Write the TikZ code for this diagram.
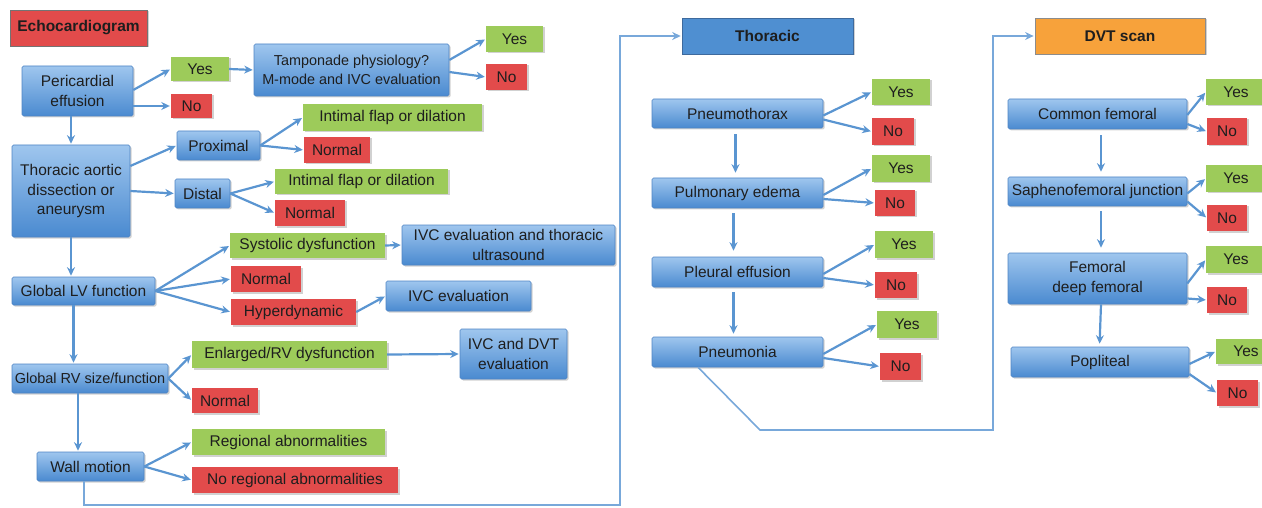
\documentclass[tikz,border=0pt]{standalone}
\usepackage{fontspec}
\setmainfont{Liberation Sans}
\usetikzlibrary{arrows.meta,shadows,calc}
\definecolor{bluetop}{HTML}{9FC6EE}
\definecolor{bluebot}{HTML}{4A8AD0}
\definecolor{blueedge}{HTML}{4E84C4}
\definecolor{grn}{HTML}{9DCB5A}
\definecolor{rd}{HTML}{E24B4B}
\definecolor{org}{HTML}{F7A23B}
\definecolor{hdr}{HTML}{4F8FD1}
\definecolor{arr}{HTML}{5A95D1}
\definecolor{frm}{HTML}{78A8DA}
\definecolor{txt}{HTML}{1E1E1E}
\newcommand{\bx}[7]{\node[#2, minimum width={(#5-#3)*1pt}, minimum height={(#6-#4)*1pt}] (#1) at ({(#3+#5)/2},{(#4+#6)/2}) {#7};}
\tikzset{
  shad/.style={drop shadow={shadow xshift=1.5pt,shadow yshift=-1.5pt,fill=black,opacity=0.18}},
  basebox/.style={align=center, inner sep=1pt, text=txt, shad},
  blue/.style={basebox, draw=blueedge, line width=0.6pt, top color=bluetop, bottom color=bluebot, rounded corners=1.5pt},
  gbox/.style={basebox, fill=grn},
  rbox/.style={basebox, fill=rd},
  hdrred/.style={basebox, fill=rd, draw=black!55, line width=0.8pt},
  hdrblue/.style={basebox, fill=hdr, draw=blueedge!80!black, line width=0.6pt},
  hdrorg/.style={basebox, fill=org, draw=black!45, line width=0.8pt},
  ar/.style={draw=arr, line width=2.2pt, -{Stealth[length=8.5pt,width=8pt]}, shorten >=1pt},
  frame/.style={draw=frm, line width=1.6pt},
  framear/.style={frame, -{Stealth[length=8.5pt,width=8pt]}, shorten >=1pt}
}
\begin{document}
\begin{tikzpicture}[x=1pt,y=-1pt, font=\fontsize{15.5}{19.5}\selectfont]
\useasboundingbox (0,0) rectangle (1262,508);
\clip (0,0) rectangle (1262,508);
% ---------- Echocardiogram column ----------
\bx{echo}{hdrred}{10}{10}{147}{46}{\textbf{Echocardiogram}}
\bx{peri}{blue}{22}{66}{133}{116}{Pericardial\\effusion}
\bx{yes1}{gbox}{171}{57}{229}{81}{Yes}
\bx{no1}{rbox}{171}{94}{212}{118}{No}
\bx{tamp}{blue, font=\fontsize{14.4}{19}\selectfont}{254}{44}{449}{96}{Tamponade physiology?\\M-mode and IVC evaluation}
\bx{yes2}{gbox}{486}{26}{543}{52}{Yes}
\bx{no2}{rbox}{486}{64}{527}{90}{No}
\bx{tad}{blue}{12}{145}{130}{237}{Thoracic aortic\\dissection or\\aneurysm}
\bx{prox}{blue}{177}{131}{260}{160}{Proximal}
\bx{int1}{gbox}{303}{104}{482}{131}{Intimal flap or dilation}
\bx{nor1}{rbox}{304}{137}{370}{163}{Normal}
\bx{dist}{blue}{175}{179}{230}{208}{Distal}
\bx{int2}{gbox}{275}{169}{448}{194}{Intimal flap or dilation}
\bx{nor2}{rbox}{275}{200}{345}{226}{Normal}
\bx{lv}{blue}{12}{277}{155}{305}{Global LV function}
\bx{sys}{gbox}{230}{233}{385}{258}{Systolic dysfunction}
\bx{ivct}{blue}{402}{225}{615}{265}{IVC evaluation and thoracic\\ultrasound}
\bx{nor3}{rbox}{231}{266}{301}{292}{Normal}
\bx{hyp}{rbox}{231}{299}{356}{325}{Hyperdynamic}
\bx{ivc}{blue}{386}{281}{531}{311}{IVC evaluation}
\bx{rv}{blue, font=\fontsize{14.5}{17}\selectfont}{12}{364}{168}{393}{Global RV size/function}
\bx{enl}{gbox}{192}{341}{387}{368}{Enlarged/RV dysfunction}
\bx{ivcdvt}{blue}{460}{329}{567}{379}{IVC and DVT\\evaluation}
\bx{nor4}{rbox}{192}{388}{258}{413}{Normal}
\bx{wall}{blue}{37}{452}{144}{481}{Wall motion}
\bx{reg}{gbox}{192}{429}{385}{455}{Regional abnormalities}
\bx{noreg}{rbox}{192}{467}{398}{493}{No regional abnormalities}
% ---------- Thoracic column ----------
\bx{thor}{hdrblue}{682}{18}{853}{54}{\textbf{Thoracic}}
\bx{pnx}{blue}{652}{99}{823}{128}{Pneumothorax}
\bx{ty1}{gbox}{872}{79}{930}{105}{Yes}
\bx{tn1}{rbox}{872}{118}{914}{145}{No}
\bx{pe}{blue}{652}{178}{823}{208}{Pulmonary edema}
\bx{ty2}{gbox}{872}{155}{930}{182}{Yes}
\bx{tn2}{rbox}{875}{190}{915}{216}{No}
\bx{pleu}{blue}{652}{257}{823}{287}{Pleural effusion}
\bx{ty3}{gbox}{875}{231}{933}{258}{Yes}
\bx{tn3}{rbox}{875}{272}{917}{298}{No}
\bx{pna}{blue}{652}{337}{823}{367}{Pneumonia}
\bx{ty4}{gbox}{877}{311}{937}{338}{Yes}
\bx{tn4}{rbox}{880}{353}{921}{380}{No}
% ---------- DVT column ----------
\bx{dvt}{hdrorg}{1035}{18}{1205}{54}{\textbf{DVT scan}}
\bx{cf}{blue}{1008}{99}{1187}{129}{Common femoral}
\bx{dy1}{gbox}{1206}{79}{1266}{105}{Yes}
\bx{dn1}{rbox}{1207}{118}{1247}{145}{No}
\bx{sfj}{blue}{1008}{177}{1187}{206}{Saphenofemoral junction}
\bx{dy2}{gbox}{1206}{165}{1266}{192}{Yes}
\bx{dn2}{rbox}{1207}{205}{1247}{231}{No}
\bx{fdf}{blue}{1008}{253}{1187}{304}{Femoral\\deep femoral}
\bx{dy3}{gbox}{1206}{246}{1266}{273}{Yes}
\bx{dn3}{rbox}{1207}{287}{1247}{313}{No}
\bx{pop}{blue}{1011}{347}{1189}{377}{Popliteal}
\bx{dy4}{gbox}{1216}{339}{1276}{364}{Yes}
\bx{dn4}{rbox}{1217}{380}{1258}{406}{No}
% ---------- connectors: echocardiogram ----------
\draw[ar] ([yshift=1pt]peri.east) -- (yes1.west);
\draw[ar] ([yshift=-15pt]peri.east) -- (no1.west);
\draw[ar] (yes1.east) -- (tamp.west);
\draw[ar] ([yshift=10pt]tamp.east) -- (yes2.west);
\draw[ar] ([yshift=-2pt]tamp.east) -- (no2.west);
\draw[ar] (tad.north |- peri.south) -- (tad.north);
\draw[ar] ([yshift=25pt]tad.east) -- (prox.west);
\draw[ar] (tad.east) -- (dist.west);
\draw[ar] (prox.east) -- (int1.west);
\draw[ar] (prox.east) -- (nor1.west);
\draw[ar] (dist.east) -- (int2.west);
\draw[ar] (dist.east) -- (nor2.west);
\draw[ar] (tad.south) -- (tad.south |- lv.north);
\draw[ar] (lv.east) -- (sys.west);
\draw[ar] (lv.east) -- (nor3.west);
\draw[ar] (lv.east) -- (hyp.west);
\draw[ar] (sys.east) -- (ivct.west);
\draw[ar] (hyp.east) -- (ivc.west);
\coordinate (lvs) at ([xshift=-10pt]lv.south);
\draw[ar] (lvs) -- (lvs |- rv.north);
\draw[ar] (rv.east) -- (enl.west);
\draw[ar] (rv.east) -- (nor4.west);
\draw[ar] (enl.east) -- (ivcdvt.west);
\coordinate (rvs) at ([xshift=-12pt]rv.south);
\draw[ar] (rvs) -- (rvs |- wall.north);
\draw[ar] (wall.east) -- (reg.west);
\draw[ar] (wall.east) -- (noreg.west);
\coordinate (ws) at ([xshift=-6.5pt]wall.south);
\coordinate (b1) at (620,505);
\draw[framear] (ws) |- (b1) |- (thor.west);
% ---------- connectors: thoracic ----------
\draw[ar] ([yshift=-2pt]pnx.east) -- (ty1.west);
\draw[ar] ([yshift=-6pt]pnx.east) -- (tn1.west);
\draw[ar] ([yshift=-2pt]pe.east) -- (ty2.west);
\draw[ar] ([yshift=-6pt]pe.east) -- (tn2.west);
\draw[ar] ([yshift=-2pt]pleu.east) -- (ty3.west);
\draw[ar] ([yshift=-6pt]pleu.east) -- (tn3.west);
\draw[ar] ([yshift=-2pt]pna.east) -- (ty4.west);
\draw[ar] ([yshift=-6pt]pna.east) -- (tn4.west);
\draw[ar, shorten <=6pt, shorten >=5pt] ([xshift=-2pt]pnx.south) -- ([xshift=-2pt]pe.north);
\draw[ar, shorten <=5pt, shorten >=6pt] ([xshift=-4pt]pe.south) -- ([xshift=-4pt]pleu.north);
\draw[ar, shorten <=5pt, shorten >=3pt] ([xshift=-4pt]pleu.south) -- ([xshift=-4pt]pna.north);
\coordinate (ps) at ([xshift=-39.5pt]pna.south);
\coordinate (b2) at (760,430);
\coordinate (b3) at (993,430);
\draw[framear] (ps) -- (b2) -- (b3) |- (dvt.west);
% ---------- connectors: DVT ----------
\draw[ar] ([yshift=-1pt]cf.east) -- (dy1.west);
\draw[ar] ([yshift=-10pt]cf.east) -- (dn1.west);
\draw[ar] ([yshift=-2pt]sfj.east) -- (dy2.west);
\draw[ar] ([yshift=-10pt]sfj.east) -- (dn2.west);
\draw[ar] ([yshift=-5pt]fdf.east) -- (dy3.west);
\draw[ar] ([yshift=-20pt]fdf.east) -- (dn3.west);
\draw[ar] ([yshift=-2pt]pop.east) -- (dy4.west);
\draw[ar] ([yshift=-12pt]pop.east) -- (dn4.west);
\draw[ar, shorten <=6pt, shorten >=5pt] ([xshift=3.5pt]cf.south) -- ([xshift=3.5pt]sfj.north);
\draw[ar, shorten <=5pt, shorten >=5pt] ([xshift=3.5pt]sfj.south) -- ([xshift=3.5pt]fdf.north);
\draw[ar, shorten >=3pt] ([xshift=3.5pt]fdf.south) -- ([xshift=2pt]fdf.south |- pop.north);
\end{tikzpicture}
\end{document}
